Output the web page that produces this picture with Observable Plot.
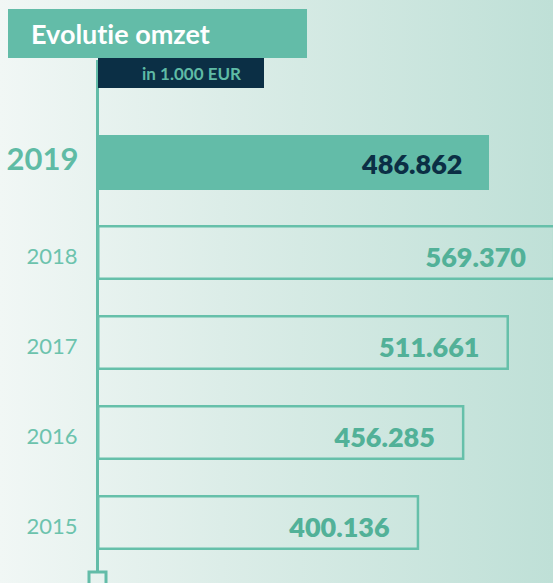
<!DOCTYPE html>
<html>
<head>
<meta charset="utf-8">
<script src="https://cdn.jsdelivr.net/npm/d3@7"></script>
<script src="https://cdn.jsdelivr.net/npm/@observablehq/plot@0.6"></script>
<style>
  html, body { margin: 0; padding: 0; }
  body { width: 553px; height: 583px; overflow: hidden; font-family: Lato, "Open Sans", sans-serif; font-variant-ligatures: none; }
  #wrap { position: relative; width: 553px; height: 583px;
    background: linear-gradient(to right, #f1f7f5 0%, #dcede8 40%, #bfe0d7 100%); }
  #chart { position: absolute; left: 0; top: 0; }
  #chart svg text { font-variant-ligatures: none; }
  #title { position: absolute; left: 8px; top: 9px; width: 299px; height: 49px; background: #63bca8;
    color: #fff; font-weight: 700; font-size: 27px; line-height: 49px; box-sizing: border-box; padding-left: 23px; }
  #subtitle { position: absolute; left: 98px; top: 58px; width: 166px; height: 30px; background: #0b2f45;
    color: #5fbba5; font-weight: 700; font-size: 17px; line-height: 31px; box-sizing: border-box; padding-left: 44px; }
</style>
</head>
<body>
<div id="wrap">
  <div id="chart"></div>
  <div id="title">Evolutie omzet</div>
  <div id="subtitle">in 1.000 EUR</div>
</div>
<script>
const years = ["2019", "2018", "2017", "2016", "2015"];
const values = [486.862, 569.370, 511.661, 456.285, 400.136];
const labels = ["486.862", "569.370", "511.661", "456.285", "400.136"];
const current = "2019";

const data = years.map((y, i) => ({year: y, value: values[i], label: labels[i], current: y === current}));
const cur = data.filter(d => d.current);
const past = data.filter(d => !d.current);

const teal = "#63bca8";
const tealText = "#52b198";
const navy = "#0b2f45";

const plot = Plot.plot({
  width: 553,
  height: 583,
  marginTop: 60,
  marginBottom: 11,
  marginLeft: 0,
  marginRight: 0,
  style: {background: "transparent", fontFamily: "Lato, sans-serif", overflow: "visible"},
  x: {domain: [0, 600], range: [97, 97 + 600 * 0.8052], axis: null},
  y: {domain: years, range: [98.5, 586.5], padding: 0.392, axis: null},
  marks: [
    // axis line spanning the frame
    Plot.ruleX([0], {stroke: teal, strokeWidth: 3}),
    // current bar
    Plot.barX(cur, {x: "value", y: "year", fill: teal}),
    // past bars, outlined
    Plot.barX(past, {x: "value", y: "year", fill: "none", stroke: "#66c0aa", strokeWidth: 2.5, inset: 1.25}),
    // values
    Plot.text(cur, {x: "value", y: "year", text: "label", textAnchor: "end", dx: -27, dy: 2, fill: navy, fontWeight: 800, fontSize: 27}),
    Plot.text(past, {x: "value", y: "year", text: "label", textAnchor: "end", dx: -30, dy: 5, fill: tealText, fontWeight: 800, fontSize: 27}),
    // year labels
    Plot.text(cur, {x: 0, y: "year", text: "year", textAnchor: "end", dx: -19, dy: -3, fill: "#5fbba5", fontWeight: 700, fontSize: 31}),
    Plot.text(past, {x: 0, y: "year", text: "year", textAnchor: "end", dx: -20, dy: 4, fill: "#6cc3ad", fontWeight: 400, fontSize: 22})
  ]
});

// bottom square marker at the axis foot
const svg = d3.select(plot);
svg.append("rect").attr("x", 89).attr("y", 572).attr("width", 17).attr("height", 17)
  .attr("fill", "none").attr("stroke", teal).attr("stroke-width", 3);

document.getElementById("chart").appendChild(plot);
</script>
</body>
</html>
